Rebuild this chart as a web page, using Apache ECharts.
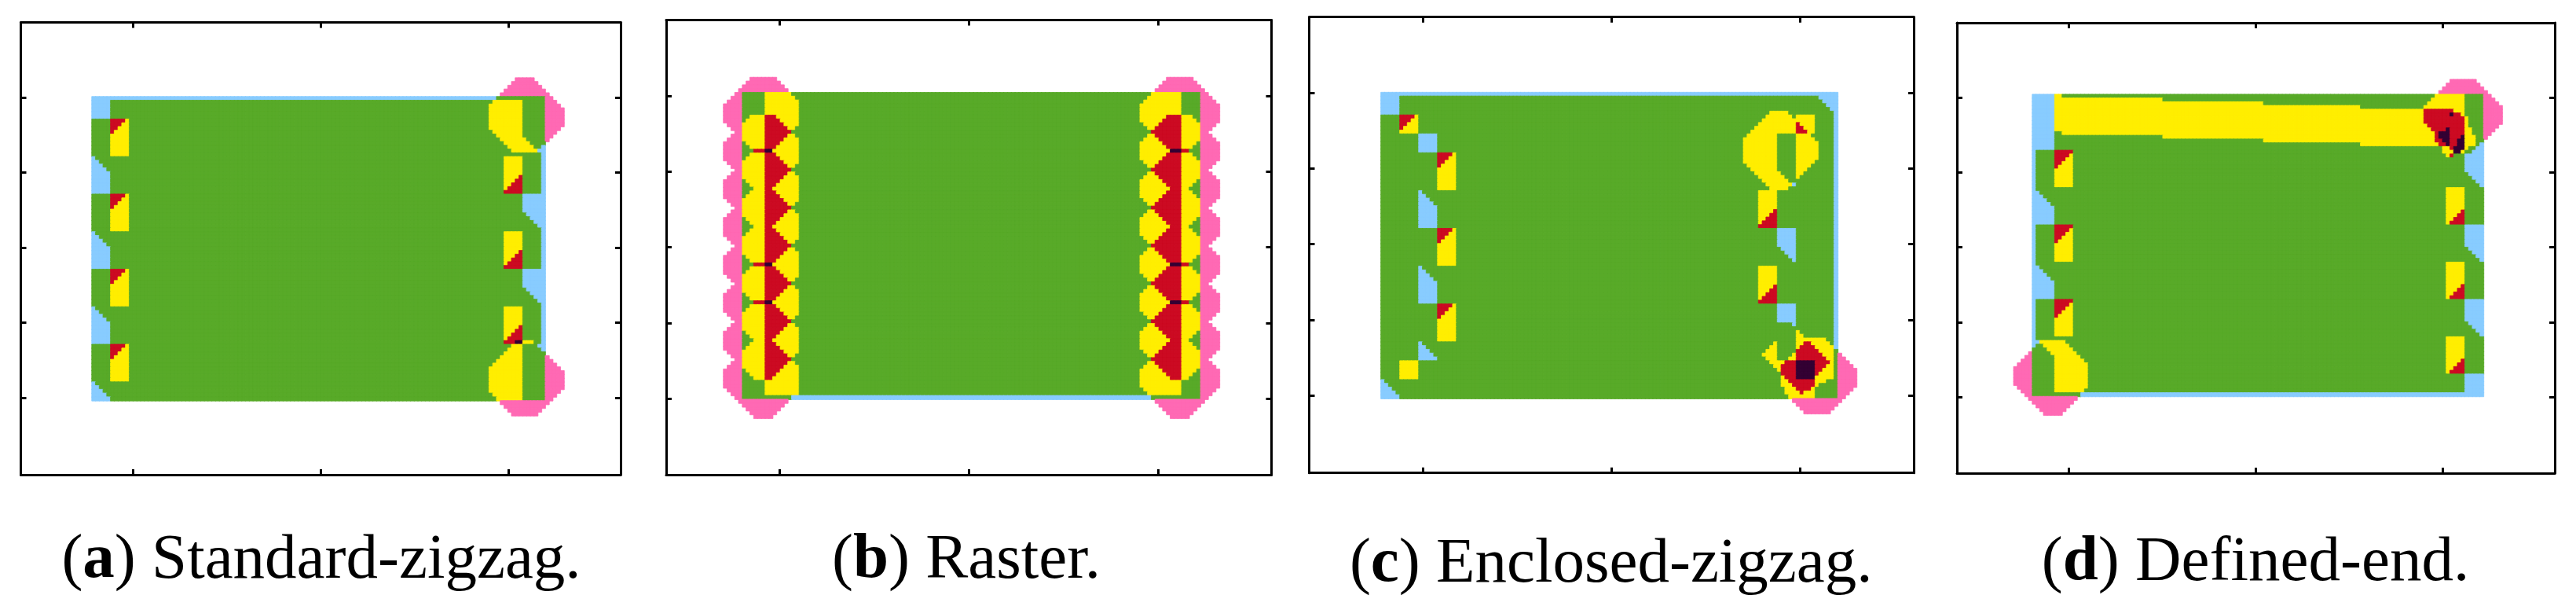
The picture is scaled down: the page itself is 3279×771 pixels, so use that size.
<!DOCTYPE html>
<html><head><meta charset="utf-8"><style>html,body{margin:0;padding:0;background:#fff}#c{width:3279px;height:771px}</style>
<script src="https://cdn.jsdelivr.net/npm/echarts@6/dist/echarts.min.js"></script></head><body><div id="c"></div><script>
// levels of the colour map
const B=1,G=2,Y=3,R=4,D=5,P=6;
const levelColors=['#ffffff','#88CCFF','#58AA28','#FFEE00','#CC0A22','#330033','#FF69B4'];
const xTicks=[6,16,26];
const yTicks=[4,8,12,16,20];
const captions=[['a','Standard-zigzag.'],['b','Raster.'],['c','Enclosed-zigzag.'],['d','Defined-end.']];
// small repeating patches: [level,row0,row1,col0,col1]
const zigTL=[[Y,0,10,0,5],[R,0,1,0,4],[R,1,2,0,3],[R,2,3,0,2],[R,3,4,0,1]];
const zigBR=[[Y,0,10,0,5],[R,5,6,4,5],[R,6,7,3,5],[R,7,8,2,5],[R,8,9,1,5],[R,9,10,0,5]];
const zigTLd=[[Y,0,10,0,5],[R,0,1,0,5],[R,1,2,0,4],[R,2,3,0,3],[R,3,4,0,2],[R,4,5,0,1]];
const zigBRd=[[Y,0,10,0,5],[R,6,7,4,5],[R,7,8,3,5],[R,8,9,2,5],[R,9,10,1,5]];
const stairL=[[B,0,1,0,1],[B,1,2,0,2],[B,2,3,0,3],[B,3,4,0,4],[B,4,10,0,5]];
const stairHead=[[B,0,1,0,1],[B,1,2,0,2],[B,2,3,0,3],[B,3,4,0,4],[B,4,5,0,5]];
const stairR=[[B,0,5,0,5],[B,5,6,1,5],[B,6,7,2,5],[B,7,8,3,5],[B,8,9,4,5]];
const stairLd=[[B,0,1,0,1],[B,1,2,0,2],[B,2,3,0,3],[B,3,4,0,4],[B,4,5,0,5],[B,5,10,0,6]];
const stairRd=[[B,0,6,0,5],[B,6,7,1,5],[B,7,8,2,5],[B,8,9,3,5],[B,9,10,4,5]];
const rasterL=[[Y,0,1,2,6],[R,0,1,6,9],[Y,0,1,9,15],[Y,1,2,1,6],[R,1,2,6,10],[Y,1,2,10,15],
 [Y,2,3,0,6],[R,2,3,6,11],[Y,2,3,11,15],[Y,3,4,0,6],[R,3,4,6,12],[Y,3,4,12,14],[Y,4,5,0,6],[R,4,5,6,13],
 [Y,5,6,0,6],[R,5,6,6,12],[Y,5,6,12,14],[Y,6,7,0,6],[R,6,7,6,11],[Y,6,7,11,15],
 [Y,7,8,1,6],[R,7,8,6,10],[Y,7,8,10,15],[Y,8,9,2,6],[R,8,9,6,9],[Y,8,9,9,15],[Y,9,10,3,6],[R,9,10,6,8],[Y,9,10,8,15]];
const rasterR=[[Y,0,1,116,119],[R,0,1,112,116],[Y,0,1,105,112],[Y,1,2,116,120],[R,1,2,111,116],[Y,1,2,105,111],
 [Y,2,3,116,121],[R,2,3,110,116],[Y,2,3,106,110],[Y,3,4,116,121],[R,3,4,109,116],[Y,3,4,107,109],[Y,4,5,116,121],[R,4,5,108,116],
 [Y,5,6,116,121],[R,5,6,109,116],[Y,5,6,107,109],[Y,6,7,116,121],[R,6,7,110,116],[Y,6,7,106,110],
 [Y,7,8,116,120],[R,7,8,111,116],[Y,7,8,105,111],[Y,8,9,116,119],[R,8,9,112,116],[Y,8,9,105,112],[Y,9,10,116,118],[R,9,10,113,116],[Y,9,10,105,113]];
const rasterDark=[[R,0,1,3,6],[D,0,1,6,8],[D,0,1,113,116],[R,0,1,116,118]];
const pinkScallopL=[[P,0,5,-5,0],[P,5,6,-4,0],[P,6,7,-3,0],[P,7,8,-2,0],[P,8,9,-3,0],[P,9,10,-4,0]];
const pinkScallopR=[[P,0,5,121,126],[P,5,6,121,125],[P,6,7,121,124],[P,7,8,121,123],[P,8,9,121,124],[P,9,10,121,125]];
const at=(patch,r,c)=>patch.map(p=>[p[0],p[1]+r,p[2]+r,p[3]+c,p[4]+c]);
const panelA=[[G,0,81,0,121],[B,0,1,0,108],[B,1,6,0,5],
 ...at(zigTL,6,5),...at(zigTL,26,5),...at(zigTL,46,5),...at(zigTL,66,5),
 ...at(stairL,16,0),...at(stairL,36,0),...at(stairL,56,0),...at(stairHead,76,0),
 [B,13,68,120,121],[Y,1,2,107,115],[Y,2,9,106,115],[Y,9,10,107,115],[Y,10,11,108,115],[Y,11,12,109,116],[Y,12,13,110,117],[Y,13,14,111,118],[Y,14,15,112,119],[B,14,15,119,121],
 ...at(zigBR,16,110),...at(zigBR,36,110),...at(zigBR,56,110),...at(stairR,26,115),...at(stairR,46,115),
 [R,65,66,110,113],[D,65,66,113,115],[Y,65,66,115,118],[Y,66,67,112,115],[B,66,67,119,121],[Y,67,68,111,115],[Y,68,69,110,115],[Y,69,70,109,115],[Y,70,71,108,115],[Y,71,72,107,115],[Y,72,79,106,115],[Y,79,80,107,115],[Y,80,81,108,115],
 [P,-5,-4,113,118],[P,-4,-3,112,119],[P,-3,-2,111,120],[P,-2,-1,110,121],[P,-1,0,109,122],[P,0,1,121,123],[P,1,2,121,124],[P,2,3,121,125],[P,3,8,121,126],[P,8,9,121,125],[P,9,10,121,124],[P,10,11,121,123],[P,11,12,121,122],
 [P,69,70,121,122],[P,70,71,121,123],[P,71,72,121,124],[P,72,73,121,125],[P,73,78,121,126],[P,78,79,121,125],[P,79,80,121,124],[P,80,81,121,123],[P,81,82,109,122],[P,82,83,110,121],[P,83,84,111,120],[P,84,85,112,119]];
const panelB=[[G,0,81,0,121],[B,80,81,13,108],
 [Y,0,1,6,13],[Y,1,2,6,14],[Y,2,6,6,15],[Y,76,80,6,15],
 [Y,0,1,108,116],[Y,1,2,107,116],[Y,2,3,106,116],[Y,3,6,105,116],[Y,76,78,105,116],[Y,78,79,106,116],[Y,79,80,107,116],
 ...at(rasterL,6,0),...at(rasterL,16,0),...at(rasterL,26,0),...at(rasterL,36,0),...at(rasterL,46,0),...at(rasterL,56,0),...at(rasterL,66,0),
 ...at(rasterR,6,0),...at(rasterR,16,0),...at(rasterR,26,0),...at(rasterR,36,0),...at(rasterR,46,0),...at(rasterR,56,0),...at(rasterR,66,0),
 ...at(rasterDark,15,0),...at(rasterDark,45,0),...at(rasterDark,55,0),
 [P,-4,-3,2,9],[P,-3,-2,1,10],[P,-2,-1,0,11],[P,-1,0,-1,12],[P,0,1,-2,0],[P,1,2,-3,0],[P,2,3,-4,0],
 ...at(pinkScallopL,3,0),...at(pinkScallopL,13,0),...at(pinkScallopL,23,0),...at(pinkScallopL,33,0),...at(pinkScallopL,43,0),...at(pinkScallopL,53,0),...at(pinkScallopL,63,0),
 [P,73,78,-5,0],[P,78,79,-4,0],[P,79,80,-3,0],[P,80,81,-2,0],[P,81,82,-1,12],[P,82,83,0,11],[P,83,84,1,10],[P,84,85,2,9],[P,85,86,3,8],
 [P,-4,-3,112,119],[P,-3,-2,111,120],[P,-2,-1,110,121],[P,-1,0,109,122],[P,0,1,121,123],[P,1,2,121,124],[P,2,3,121,125],
 ...at(pinkScallopR,3,0),...at(pinkScallopR,13,0),...at(pinkScallopR,23,0),...at(pinkScallopR,33,0),...at(pinkScallopR,43,0),...at(pinkScallopR,53,0),...at(pinkScallopR,63,0),
 [P,73,78,121,126],[P,78,79,121,125],[P,79,80,121,124],[P,80,81,121,123],[P,81,82,109,122],[P,82,83,110,121],[P,83,84,111,120],[P,84,85,112,119],[P,85,86,113,118]];
const panelC=[[G,0,81,0,121],[B,0,1,0,121],[B,1,6,0,5],[B,1,2,116,121],[B,2,3,117,121],[B,3,4,118,121],[B,4,5,119,121],[B,5,68,120,121],
 [Y,6,11,5,10],[R,6,7,5,9],[R,7,8,5,8],[R,8,9,5,7],[R,9,10,5,6],[B,11,16,10,15],
 ...at(zigTL,16,15),...at(zigTL,36,15),...at(zigTL,56,15),...at(stairL,26,10),...at(stairL,46,10),...at(stairHead,66,10),[Y,71,76,5,10],...at(stairHead,76,0),
 ...at(zigBR,26,100),...at(zigBR,46,100),...at(stairR,36,105),[B,56,61,105,110],[B,61,62,109,110],
 [Y,5,6,103,108],[Y,6,7,102,109],[Y,6,7,110,115],[Y,7,8,101,115],[Y,8,9,100,115],[R,8,9,110,111],[Y,9,10,99,115],[R,9,10,110,112],[Y,10,11,98,115],[R,10,11,110,113],
 [Y,11,12,97,105],[Y,11,12,110,114],[Y,12,13,96,105],[Y,12,13,110,115],[Y,13,18,96,105],[Y,13,18,110,116],[Y,18,19,96,105],[Y,18,19,110,115],[Y,19,20,97,105],[Y,19,20,110,114],[Y,20,21,98,105],[Y,20,21,110,113],
 [Y,21,22,99,106],[Y,21,22,110,112],[Y,22,23,100,107],[Y,22,23,110,111],[Y,23,24,101,108],[Y,24,25,102,109],[B,24,25,109,110],[Y,25,26,103,108],
 [Y,63,64,110,111],[Y,64,65,110,112],[Y,65,66,110,118],
 [Y,66,67,104,105],[Y,66,67,110,112],[R,66,67,112,114],[Y,66,67,114,119],
 [Y,67,68,103,105],[Y,67,68,110,111],[R,67,68,111,115],[Y,67,68,115,120],
 [Y,68,69,102,105],[R,68,69,110,116],[Y,68,69,116,120],
 [Y,69,70,101,105],[Y,69,70,109,110],[R,69,70,110,117],[Y,69,70,117,120],
 [Y,70,71,102,105],[Y,70,71,108,110],[R,70,71,110,118],[Y,70,71,118,120],
 [Y,71,72,103,107],[R,71,72,107,110],[D,71,72,110,115],[R,71,72,115,119],[Y,71,72,119,120],
 [Y,72,73,104,106],[R,72,73,106,110],[D,72,73,110,115],[R,72,73,115,118],[Y,72,73,118,120],
 [Y,73,74,105,106],[R,73,74,106,110],[D,73,74,110,115],[R,73,74,115,117],[Y,73,74,117,120],
 [R,74,75,106,110],[D,74,75,110,115],[R,74,75,115,116],[Y,74,75,116,120],
 [Y,75,76,106,107],[R,75,76,107,110],[D,75,76,110,115],[Y,75,76,115,120],
 [Y,76,77,106,108],[R,76,77,108,115],[Y,76,77,115,118],
 [Y,77,78,106,109],[R,77,78,109,115],[Y,77,78,115,116],
 [Y,78,79,107,110],[R,78,79,110,114],[Y,78,79,114,115],
 [Y,79,80,107,111],[R,79,80,111,112],[Y,79,80,112,115],[Y,80,81,108,115],
 [P,69,70,121,122],[P,70,71,121,123],[P,71,72,121,124],[P,72,73,121,125],[P,73,78,121,126],[P,78,79,121,125],[P,79,80,121,124],[P,80,81,121,123],[P,81,82,109,122],[P,82,83,110,121],[P,83,84,111,120],[P,84,85,112,119]];
const panelD=[[G,0,81,0,121],[B,0,15,0,6],[B,15,25,0,1],[B,35,45,0,1],[B,55,65,0,1],[B,65,66,0,1],[B,66,67,0,2],[B,67,68,0,1],
 ...at(stairLd,25,0),...at(stairLd,45,0),...at(zigTLd,15,6),...at(zigTLd,35,6),...at(zigTLd,55,6),
 ...at(stairRd,15,116),...at(stairRd,35,116),...at(stairRd,55,116),...at(zigBRd,25,111),...at(zigBRd,45,111),...at(zigBRd,65,111),
 [B,75,81,116,121],[B,80,81,13,121],
 [Y,0,10,6,8],[Y,1,11,8,35],[Y,2,12,35,62],[Y,3,13,62,88],[Y,4,14,88,110],
 [Y,0,1,108,116],[Y,1,2,107,116],[Y,2,3,106,116],[Y,3,4,105,116],
 [R,4,5,105,113],[Y,4,5,113,116],[R,5,6,105,112],[D,5,6,112,113],[R,5,6,113,115],[Y,5,6,115,116],
 [R,6,8,105,116],[Y,6,8,116,117],[R,8,9,106,116],[Y,8,9,116,117],
 [R,9,10,107,111],[D,9,10,111,112],[R,9,10,112,116],[Y,9,10,116,118],
 [R,10,11,108,109],[D,10,11,109,112],[R,10,11,112,116],[Y,10,11,116,118],
 [R,11,12,108,109],[D,11,12,109,112],[R,11,12,112,115],[D,11,12,115,116],[Y,11,12,116,119],
 [R,12,13,108,110],[D,12,13,110,112],[R,12,13,112,114],[D,12,13,114,116],[Y,12,13,116,119],
 [R,13,14,109,111],[D,13,14,111,112],[R,13,14,112,114],[D,13,14,114,116],[Y,13,14,116,119],[B,13,14,120,121],
 [Y,14,15,110,112],[R,14,15,112,113],[D,14,15,113,116],[Y,14,15,116,117],[B,14,15,119,121],
 [G,15,16,116,118],[B,15,16,118,121],[Y,15,16,110,113],[D,15,16,113,115],[Y,15,16,115,116],
 [Y,16,17,111,112],[R,16,17,112,113],
 [Y,66,67,2,9],[Y,67,68,3,10],[Y,68,69,4,11],[Y,69,70,5,12],[Y,70,71,6,13],[Y,71,72,6,14],[Y,72,79,6,15],[Y,79,80,6,14],
 [P,69,70,-1,0],[P,70,71,-2,0],[P,71,72,-3,0],[P,72,73,-4,0],[P,73,78,-5,0],[P,78,79,-4,0],[P,79,80,-3,0],[P,80,81,-2,0],[P,81,82,-1,12],[P,82,83,0,11],[P,83,84,1,10],[P,84,85,2,9],[P,85,86,3,8],
 [P,-4,-3,112,119],[P,-3,-2,111,120],[P,-2,-1,110,121],[P,-1,0,109,122],[P,0,1,121,123],[P,1,2,121,124],[P,2,3,121,125],[P,3,8,121,126],[P,8,9,121,125],[P,9,10,121,124],[P,10,11,121,123],[P,11,12,121,122]];
// layout: frame rectangle, tick spacing, heat-cell block origin, cell size, padding
const panels=[
 {rects:panelA,frame:[26.5,28.6,763.5,575.5],tick:95.5,heat:[117,99.1],cell:[4.77,4.777],pad:[0,5],size:[126,90],cap:[409,745]},
 {rects:panelB,frame:[848,25.6,770.5,578.5],tick:96.3,heat:[921,98.5],cell:[4.82,4.82],pad:[5,4],size:[131,90],cap:[1230,745]},
 {rects:panelC,frame:[1666.5,21.7,769.5,580],tick:96.3,heat:[1757.9,117.6],cell:[4.806,4.81],pad:[0,0],size:[126,85],cap:[2050.7,750]},
 {rects:panelD,frame:[2491,29,761,573],tick:95.2,heat:[2563.3,101.2],cell:[4.747,4.745],pad:[5,4],size:[131,90],cap:[2871,748]}];
const FS=81;
function cells(p){
 const [nc,nr]=p.size,g=Array.from({length:nr},()=>new Array(nc).fill(0));
 for(const [l,r0,r1,c0,c1] of p.rects)for(let r=r0;r<r1;r++)for(let c=c0;c<c1;c++){
  const y=r+p.pad[1],x=c+p.pad[0]; if(y>=0&&y<nr&&x>=0&&x<nc)g[y][x]=l;}
 const out=[];g.forEach((row,y)=>row.forEach((v,x)=>{if(v){const col=levelColors[v];
   out.push({value:[x,y,v],itemStyle:{color:col,borderColor:col,borderWidth:0.8}});}}));return out;
}
const grids=[],xAxes=[],yAxes=[],series=[],titles=[];
const frameAxis={type:'value',axisLabel:{show:false},splitLine:{show:false},
 axisLine:{show:true,onZero:false,lineStyle:{color:'#000',width:3}}};
const tick=v=>({show:true,inside:true,length:7,lineStyle:{color:'#000',width:3},customValues:v});
panels.forEach((p,i)=>{
 grids.push({left:p.heat[0],top:p.heat[1],width:p.size[0]*p.cell[0],height:p.size[1]*p.cell[1]});
 xAxes.push({gridIndex:i,type:'category',show:false,data:Array.from({length:p.size[0]},(_,k)=>k)});
 yAxes.push({gridIndex:i,type:'category',show:false,inverse:true,data:Array.from({length:p.size[1]},(_,k)=>k)});
 series.push({type:'heatmap',xAxisIndex:i,yAxisIndex:i,data:cells(p),progressive:0,silent:true,emphasis:{disabled:true}});
});
panels.forEach((p,i)=>{
 const g=i+4, yMin=24-p.frame[3]/(p.tick/4);
 grids.push({left:p.frame[0],top:p.frame[1],width:p.frame[2],height:p.frame[3]});
 xAxes.push({...frameAxis,gridIndex:g,min:0,max:32,position:'bottom',axisTick:tick(xTicks)});
 xAxes.push({...frameAxis,gridIndex:g,min:0,max:32,position:'top',axisTick:tick(xTicks)});
 yAxes.push({...frameAxis,gridIndex:g,min:yMin,max:24,position:'left',axisTick:tick(yTicks)});
 yAxes.push({...frameAxis,gridIndex:g,min:yMin,max:24,position:'right',axisTick:tick(yTicks)});
 titles.push({left:p.cap[0],top:p.cap[1]-FS*0.89,textAlign:'center',padding:0,
  text:'{n|(}{b|'+captions[i][0]+'}{n|) '+captions[i][1]+'}',
  textStyle:{fontWeight:'normal',rich:{n:{fontFamily:'Liberation Serif',fontWeight:'normal',fontSize:FS,color:'#000'},b:{fontFamily:'Liberation Serif',fontWeight:'bold',fontSize:FS,color:'#000'}}}});
});
const chart=echarts.init(document.getElementById('c'),null,{renderer:'canvas'});
chart.setOption({animation:false,backgroundColor:'#fff',title:titles,grid:grids,xAxis:xAxes,yAxis:yAxes,series});
</script></body></html>
